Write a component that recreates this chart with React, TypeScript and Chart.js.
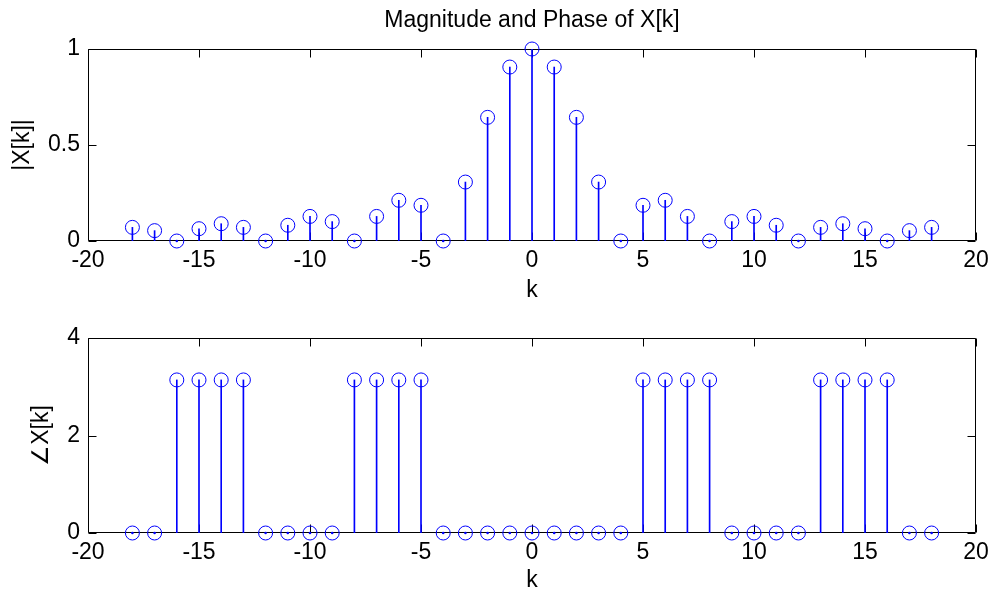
import { useEffect, useRef } from "react";
import { Chart, registerables } from "chart.js";

Chart.register(...registerables);

// ---- data ----
const kValues = [-18, -17, -16, -15, -14, -13, -12, -11, -10, -9, -8, -7, -6, -5, -4, -3, -2, -1, 0, 1, 2, 3, 4, 5, 6, 7, 8, 9, 10, 11, 12, 13, 14, 15, 16, 17, 18];
const magnitude = [0.071, 0.054, 0, 0.064, 0.09, 0.071, 0, 0.082, 0.128, 0.101, 0, 0.128, 0.212, 0.186, 0, 0.307, 0.644, 0.906, 1, 0.906, 0.644, 0.307, 0, 0.186, 0.212, 0.128, 0, 0.101, 0.128, 0.082, 0, 0.071, 0.09, 0.064, 0, 0.054, 0.071];
const phase = [0, 0, 3.14, 3.14, 3.14, 3.14, 0, 0, 0, 0, 3.14, 3.14, 3.14, 3.14, 0, 0, 0, 0, 0, 0, 0, 0, 0, 3.14, 3.14, 3.14, 3.14, 0, 0, 0, 0, 3.14, 3.14, 3.14, 3.14, 0, 0];
const xTicks = [-20, -15, -10, -5, 0, 5, 10, 15, 20];
const magTicks = [0, 0.5, 1];
const phaseTicks = [0, 2, 4];

const FONT_FAMILY = "'Liberation Sans', Arial, Helvetica, sans-serif";
const FONT_SIZE = 23;
const BLUE = "#0000ff";

const matlabAxes = {
  id: "matlabAxes",
  beforeDatasetsDraw(chart: any, _args: any, opts: any) {
    const { ctx, chartArea, scales } = chart;
    const { left, right, top, bottom } = chartArea;
    const L = Math.round(left) + 0.5;
    const R = Math.round(right) - 0.5;
    const T = Math.round(top) + 0.5;
    const B = Math.round(bottom) - 0.5;
    const len = 8;
    ctx.save();
    ctx.strokeStyle = "#000";
    ctx.lineWidth = 1;
    ctx.beginPath();
    ctx.rect(L, T, R - L, B - T);
    (opts.xTicks as number[]).forEach((v) => {
      const px = Math.round(scales.x.getPixelForValue(v)) + 0.5;
      ctx.moveTo(px, B);
      ctx.lineTo(px, B - len);
      ctx.moveTo(px, T);
      ctx.lineTo(px, T + len);
    });
    (opts.yTicks as number[]).forEach((v) => {
      const py = Math.round(scales.y.getPixelForValue(v)) + 0.5;
      ctx.moveTo(L, py);
      ctx.lineTo(L + len, py);
      ctx.moveTo(R, py);
      ctx.lineTo(R - len, py);
    });
    ctx.stroke();
    ctx.restore();
  },
};

function makeConfig(
  values: number[],
  yTicks: number[],
  yLabel: string,
  canvasH: number,
  areaTop: number,
  areaBottom: number,
  xTitlePad: number,
  yTitlePad: number,
  title: string | null
): any {
  const font = { family: FONT_FAMILY, size: FONT_SIZE, weight: "normal" as const };
  const lh = FONT_SIZE * 1.2;
  const points = kValues.map((k, i) => ({ x: k, y: values[i] }));
  const zeroPoints = points.filter((p) => p.y === 0);
  return {
    type: "bar",
    data: {
      datasets: [
        {
          type: "scatter",
          data: zeroPoints,
          pointRadius: 1.3,
          pointBackgroundColor: BLUE,
          pointBorderWidth: 0,
          clip: false,
          order: 0,
        },
        {
          type: "scatter",
          data: points,
          pointRadius: 7,
          pointBorderColor: BLUE,
          pointBackgroundColor: "rgba(0,0,0,0)",
          pointBorderWidth: 1,
          clip: false,
          order: 1,
        },
        {
          type: "bar",
          data: points,
          barThickness: 1,
          backgroundColor: BLUE,
          borderWidth: 0,
          order: 2,
        },
      ],
    },
    options: {
      animation: false,
      responsive: false,
      events: [],
      layout: { padding: { left: 0, right: 14, top: title ? 0 : areaTop, bottom: 0 } },
      plugins: {
        legend: { display: false },
        tooltip: { enabled: false },
        title: title
          ? {
              display: true,
              text: title,
              fullSize: false,
              color: "#000",
              font,
              padding: { top: 21 - lh / 2, bottom: areaTop - 21 - lh / 2 },
            }
          : { display: false },
        matlabAxes: { xTicks, yTicks },
      },
      scales: {
        x: {
          type: "linear",
          min: -20,
          max: 20,
          offset: false,
          grid: { display: false, drawTicks: false },
          border: { display: false },
          afterBuildTicks: (s: any) => {
            s.ticks = xTicks.map((v) => ({ value: v }));
          },
          afterFit: (s: any) => {
            s.height = canvasH - areaBottom;
          },
          ticks: {
            color: "#000",
            font,
            padding: 20 - lh / 2,
            autoSkip: false,
            maxRotation: 0,
            callback: (v: any) => String(v),
          },
          title: { display: true, text: "k", color: "#000", font, padding: { top: 0, bottom: xTitlePad - lh / 2 } },
        },
        y: {
          type: "linear",
          min: yTicks[0],
          max: yTicks[yTicks.length - 1],
          grid: { display: false, drawTicks: false },
          border: { display: false },
          afterBuildTicks: (s: any) => {
            s.ticks = yTicks.map((v) => ({ value: v }));
          },
          afterFit: (s: any) => {
            s.width = 88;
          },
          ticks: { color: "#000", font, padding: 8, callback: (v: any) => String(v) },
          title: { display: true, text: yLabel, color: "#000", font, padding: { top: yTitlePad - lh / 2, bottom: 0 } },
        },
      },
    },
    plugins: [matlabAxes],
  };
}

export default function App() {
  const topRef = useRef<HTMLCanvasElement>(null);
  const botRef = useRef<HTMLCanvasElement>(null);

  useEffect(() => {
    // xTitlePad = distance from canvas bottom to title centre; yTitlePad = title centre x
    const c1 = new Chart(
      topRef.current!,
      makeConfig(magnitude, magTicks, "|X[k]|", 310, 49, 241, 19.5, 22.5, "Magnitude and Phase of X[k]")
    );
    const c2 = new Chart(
      botRef.current!,
      makeConfig(phase, phaseTicks, "\u2220X[k]", 294, 38, 233, 13.5, 42, null)
    );
    return () => {
      c1.destroy();
      c2.destroy();
    };
  }, []);

  return (
    <div style={{ position: "absolute", left: 0, top: 0, width: 995, height: 594, background: "#fff" }}>
      <canvas
        ref={topRef}
        width={995}
        height={310}
        style={{ position: "absolute", left: 0, top: 0, width: 995, height: 310, display: "block" }}
      />
      <canvas
        ref={botRef}
        width={995}
        height={294}
        style={{ position: "absolute", left: 0, top: 300, width: 995, height: 294, display: "block" }}
      />
    </div>
  );
}
